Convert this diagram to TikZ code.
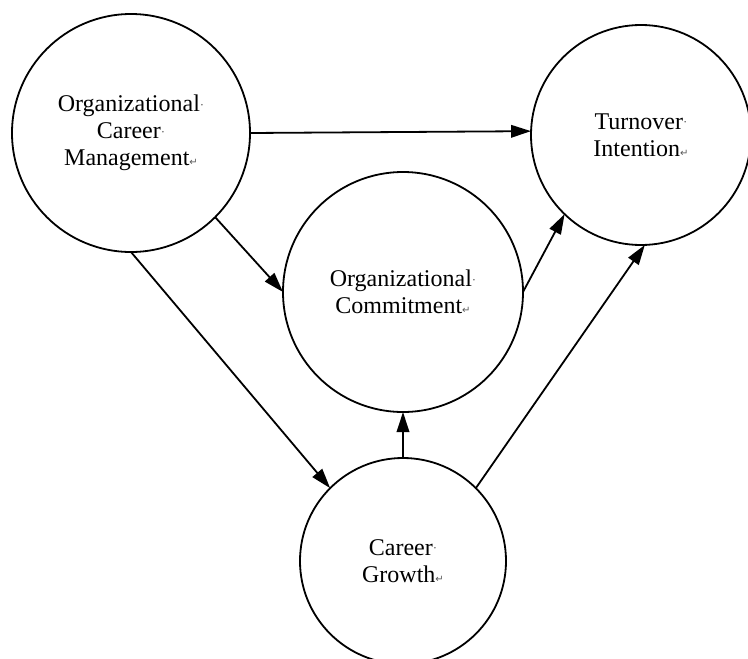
\documentclass[tikz,border=0pt]{standalone}
\usepackage{fontspec}
\setmainfont{Liberation Serif}
\newfontfamily\symfont{DejaVu Sans}
\usetikzlibrary{arrows.meta}
% Word-style formatting marks shown after words and lines
\newcommand\spmark{{\color{black!65}\fontsize{13}{13}\selectfont\raisebox{0.2em}{·}}}
\newcommand\retmark{{\color{black!65}\symfont\fontsize{10}{10}\selectfont ↵}}
\begin{document}
\begin{tikzpicture}[x=1pt,y=-1pt,
  var/.style={circle,draw,line width=1.8pt,inner sep=0pt,outer sep=0pt,
    align=center,font=\fontsize{24}{27}\selectfont},
  link/.style={line width=1.8pt,-{Triangle[length=20pt,width=12.5pt]}}]
\useasboundingbox (0,0) rectangle (748,659);

% constructs
\node[var,minimum size=238pt] (ocm) at (131,133)
  {Organizational\spmark\\Career\spmark\\Management\retmark};
\node[var,minimum size=220pt] (ti) at (641,135)
  {Turnover\spmark\\Intention\retmark};
\node[var,minimum size=240pt] (oc) at (403,292)
  {Organizational\spmark\\Commitment\retmark};
\node[var,minimum size=206pt] (cg) at (403,561)
  {Career\spmark\\Growth\retmark};

% paths
\draw[link] (ocm.0) -- (ti.178);
\draw[link] (ocm.-45) -- (oc.180);
\draw[link] (ocm.-90) -- (cg.135);
\draw[link] (cg.90) -- (oc.-90);
\draw[link] (oc.0) -- (ti.226);
\draw[link] (cg.45) -- (ti.-88);
\end{tikzpicture}
\end{document}
